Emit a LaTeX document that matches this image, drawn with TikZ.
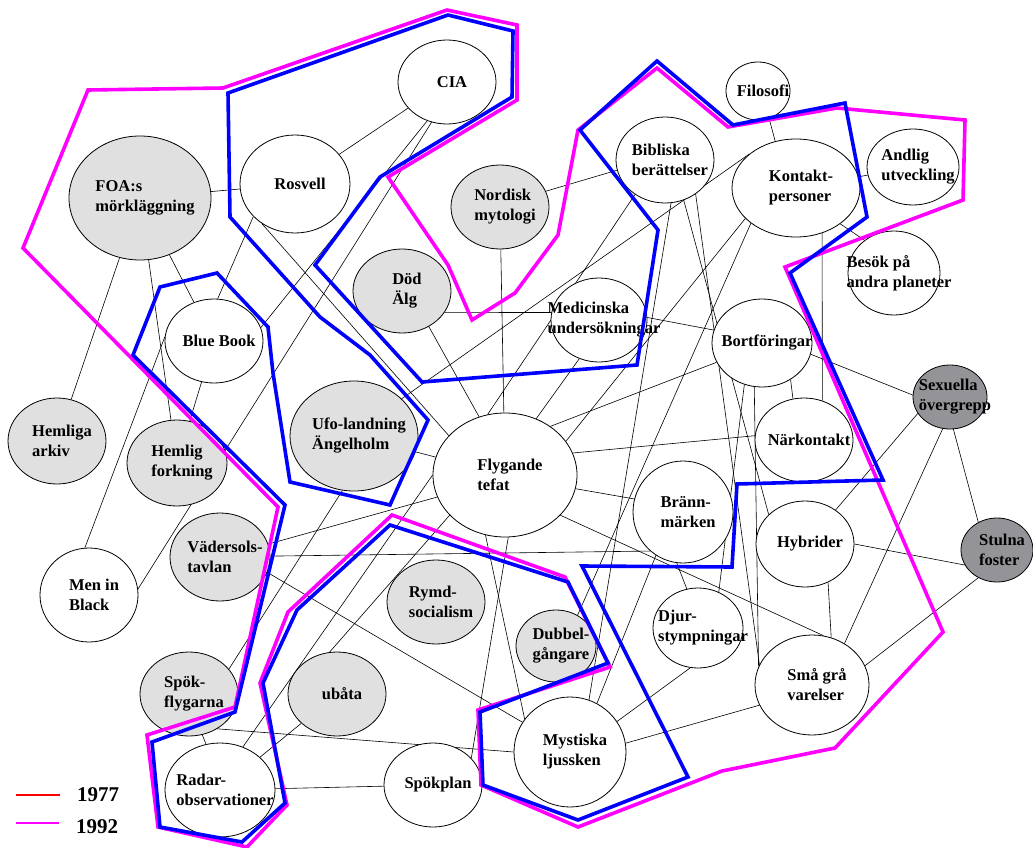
\documentclass[tikz,border=0pt]{standalone}
\usepackage{fontspec}
\setmainfont{Liberation Serif}
\usetikzlibrary{shapes.geometric,backgrounds}
\definecolor{ltgray}{RGB}{224,224,224}
\definecolor{dkgray}{RGB}{148,148,152}
\definecolor{c77}{RGB}{0,0,255}
\definecolor{c92}{RGB}{255,0,255}
\definecolor{legred}{RGB}{255,0,0}
\tikzset{
  wt/.style={ellipse, draw, line width=0.8pt, fill=white, inner sep=0pt},
  lt/.style={wt, fill=ltgray},
  dk/.style={wt, fill=dkgray},
  sz/.style 2 args={minimum width=#1, minimum height=#2},
  lbl/.style={font=\bfseries\fontsize{16.5}{20}\selectfont, align=left, inner sep=0pt, xshift=5pt},
  leg/.style={font=\bfseries\fontsize{21}{21}\selectfont, inner sep=0pt},
  edge/.style={line width=0.6pt},
  y1977/.style={c77, line width=3.6pt},
  y1992/.style={c92, line width=3.6pt}
}
\begin{document}
\begin{tikzpicture}[x=1pt,y=-1pt]
  \useasboundingbox (0,0) rectangle (1033,848);

  % noder
  \node[wt, sz={98}{84}]   (cia)      at (447,82)  {};
  \node[wt, sz={110}{98}]  (rosvell)  at (295,184) {};
  \node[lt, sz={142}{124}] (foa)      at (140,198) {};
  \node[lt, sz={98}{84}]   (nordisk)  at (500,207) {};
  \node[wt, sz={98}{86}]   (bibliska) at (665,160) {};
  \node[wt, sz={64}{58}]   (filosofi) at (758,91)  {};
  \node[wt, sz={128}{98}]  (kontakt)  at (796,188) {};
  \node[wt, sz={92}{76}]   (andlig)   at (913,167) {};
  \node[wt, sz={92}{84}]   (besok)    at (894,273) {};
  \node[lt, sz={98}{84}]   (dod)      at (402,291) {};
  \node[wt, sz={96}{84}]   (medicin)  at (599,320) {};
  \node[wt, sz={100}{88}]  (bort)     at (762,343) {};
  \node[dk, sz={74}{64}]   (sexuella) at (950,397) {};
  \node[wt, sz={98}{84}]   (narkont)  at (804,440) {};
  \node[wt, sz={98}{84}]   (bluebook) at (214,341) {};
  \node[lt, sz={98}{86}]   (hemarkiv) at (57,441)  {};
  \node[lt, sz={100}{86}]  (hemforsk) at (177,463) {};
  \node[lt, sz={128}{110}] (ufo)      at (354,436) {};
  \node[wt, sz={144}{124}] (fly)      at (505,475) {};
  \node[wt, sz={100}{102}] (brann)    at (683,512) {};
  \node[wt, sz={98}{86}]   (hybrider) at (805,544) {};
  \node[dk, sz={72}{64}]   (stulna)   at (997,550) {};
  \node[lt, sz={100}{88}]  (vader)    at (220,557) {};
  \node[wt, sz={98}{94}]   (mib)      at (89,595)  {};
  \node[lt, sz={98}{84}]   (rymd)     at (436,602) {};
  \node[lt, sz={80}{72}]   (dubbel)   at (556,646) {};
  \node[wt, sz={90}{80}]   (djur)     at (698,628) {};
  \node[wt, sz={114}{100}] (smagra)   at (812,685) {};
  \node[lt, sz={98}{84}]   (spokfl)   at (189,694) {};
  \node[lt, sz={98}{84}]   (ubata)    at (337,694) {};
  \node[wt, sz={110}{94}]  (radar)    at (220,790) {};
  \node[wt, sz={98}{84}]   (spokplan) at (433,785) {};
  \node[wt, sz={112}{110}] (mystiska) at (570,752) {};

  % texter
  \node[lbl] (ciaT)      at (cia)      {CIA};
  \node[lbl] (rosvellT)  at (rosvell)  {Rosvell};
  \node[lbl] (foaT)      at (foa)      {FOA:s\\mörkläggning};
  \node[lbl] (nordiskT)  at (nordisk)  {Nordisk\\mytologi};
  \node[lbl] (bibliskaT) at (bibliska) {Bibliska\\berättelser};
  \node[lbl] (filosofiT) at (filosofi) {Filosofi};
  \node[lbl] (kontaktT)  at (kontakt)  {Kontakt-\\personer};
  \node[lbl] (andligT)   at (andlig)   {Andlig\\utveckling};
  \node[lbl] (besokT)    at (besok)    {Besök på\\andra planeter};
  \node[lbl] (dodT)      at (dod)      {Död\\Älg};
  \node[lbl] (medicinT)  at (medicin)  {Medicinska\\undersökningar};
  \node[lbl] (bortT)     at (bort)     {Bortföringar};
  \node[lbl] (sexuellaT) at (sexuella) {Sexuella\\övergrepp};
  \node[lbl] (narkontT)  at (narkont)  {Närkontakt};
  \node[lbl] (bluebookT) at (bluebook) {Blue Book};
  \node[lbl] (hemarkivT) at (hemarkiv) {Hemliga\\arkiv};
  \node[lbl] (hemforskT) at (hemforsk) {Hemlig\\forkning};
  \node[lbl] (ufoT)      at (ufo)      {Ufo-landning\\Ängelholm};
  \node[lbl] (flyT)      at (fly)      {Flygande\\tefat};
  \node[lbl] (brannT)    at (brann)    {Bränn-\\märken};
  \node[lbl] (hybriderT) at (hybrider) {Hybrider};
  \node[lbl] (stulnaT)   at (stulna)   {Stulna\\foster};
  \node[lbl] (vaderT)    at (vader)    {Vädersols-\\tavlan};
  \node[lbl] (mibT)      at (mib)      {Men in\\Black};
  \node[lbl] (rymdT)     at (rymd)     {Rymd-\\socialism};
  \node[lbl] (dubbelT)   at (dubbel)   {Dubbel-\\gångare};
  \node[lbl] (djurT)     at (djur)     {Djur-\\stympningar};
  \node[lbl] (smagraT)   at (smagra)   {Små grå\\varelser};
  \node[lbl] (spokflT)   at (spokfl)   {Spök-\\flygarna};
  \node[lbl] (ubataT)    at (ubata)    {ubåta};
  \node[lbl] (radarT)    at (radar)    {Radar-\\observationer};
  \node[lbl] (spokplanT) at (spokplan) {Spökplan};
  \node[lbl] (mystiskaT) at (mystiska) {Mystiska\\ljussken};

  % kopplingar
  \begin{scope}[on background layer]
    \draw[edge] (foa) -- (rosvell);
    \draw[edge] (foa) -- (hemarkiv);
    \draw[edge] (foa) -- (hemforsk);
    \draw[edge] (foa) -- (bluebook);
    \draw[edge] (cia) -- (rosvell);
    \draw[edge] (cia.-117) -- (bluebook.16);
    \draw[edge] (cia.-111) -- (mib.7);
    \draw[edge] (rosvell.-142) -- (bluebook.85);
    \draw[edge] (rosvell.-130) -- (fly.145);
    \draw[edge] (bluebook) -- (hemforsk);
    \draw[edge] (bluebook.175) -- (mib.95);
    \draw[edge] (ufo) -- (fly);
    \draw[edge] (ufo.-102) -- (spokfl.32);
    \draw[edge] (ufo.38) -- (kontakt.144);
    \draw[edge] (vader.15) -- (fly.-162);
    \draw[edge] (vader.1) -- (brann.-130);
    \draw[edge] (vader.-18) -- (mystiska.148);
    \draw[edge] (spokfl.-72) -- (radar.107);
    \draw[edge] (spokfl.-51) -- (mystiska.180);
    \draw[edge] (ubata) -- (radar);
    \draw[edge] (radar) -- (spokplan);
    \draw[edge] (fly.180) -- (radar.62);
    \draw[edge] (fly.-144) -- (ubata.100);
    \draw[edge] (fly.-87) -- (spokplan.35);
    \draw[edge] (fly.-108) -- (mystiska.144);
    \draw[edge] (dod.-27) -- (medicin.171);
    \draw[edge] (dod.-53) -- (fly.114);
    \draw[edge] (nordisk.19) -- (bibliska.-168);
    \draw[edge] (nordisk) -- (fly);
    \draw[edge] (medicin.-117) -- (fly.61);
    \draw[edge] (medicin.3) -- (bort.165);
    \draw[edge] (bibliska.-131) -- (fly.106);
    \draw[edge] (bibliska.-82) -- (mystiska.70);
    \draw[edge] (bibliska.-65) -- (hybrider.141);
    \draw[edge] (bibliska.-48) -- (smagra.159);
    \draw[edge] (filosofi.-68) -- (kontakt.114);
    \draw[edge] (kontakt) -- (andlig);
    \draw[edge] (kontakt.-39) -- (besok.132);
    \draw[edge] (kontakt.-60) -- (narkont.65);
    \draw[edge] (kontakt.-149) -- (fly.29);
    \draw[edge] (kontakt.-142) -- (dubbel.55);
    \draw[edge] (bort.-157) -- (fly.47);
    \draw[edge] (bort.-52) -- (narkont.105);
    \draw[edge] (bort.-13) -- (sexuella.177);
    \draw[edge] (bort.-113) -- (djur.60);
    \draw[edge] (bort.-100) -- (smagra.161);
    \draw[edge] (fly.18) -- (narkont.175);
    \draw[edge] (fly.-11) -- (brann.165);
    \draw[edge] (fly.-36) -- (smagra.77);
    \draw[edge] (sexuella.-153) -- (hybrider.48);
    \draw[edge] (sexuella.-103) -- (smagra.52);
    \draw[edge] (sexuella.-84) -- (stulna.124);
    \draw[edge] (hybrider.0) -- (stulna.-155);
    \draw[edge] (hybrider.-59) -- (smagra.68);
    \draw[edge] (stulna.-124) -- (smagra.20);
    \draw[edge] (djur.-101) -- (mystiska.33);
    \draw[edge] (mystiska.9) -- (smagra.-159);
    \draw[edge] (brann.-97) -- (djur.106);
    \draw[edge] (brann.-122) -- (mystiska.61);
  \end{scope}

  % 1992
  \draw[y1992] (88,90) -- (223,88) -- (447,10) -- (517,25) -- (517,100)
    -- (388,177) -- (448,265) -- (472,320) -- (515,293) -- (558,235)
    -- (578,130) -- (657,68) -- (728,127) -- (837,108) -- (965,120)
    -- (963,200) -- (785,267) -- (943,632) -- (835,748) -- (722,771)
    -- (578,827) -- (481,785) -- (478,710) -- (610,667) -- (565,577)
    -- (392,515) -- (288,612) -- (260,683) -- (287,805) -- (247,847)
    -- (158,827) -- (147,735) -- (235,707) -- (278,507) -- (23,248) -- cycle;

  % 1977
  \draw[y1977] (228,93) -- (448,15) -- (513,31) -- (512,97) -- (380,177)
    -- (315,265) -- (422,382) -- (637,365) -- (658,230) -- (580,130)
    -- (657,61) -- (733,125) -- (845,103) -- (867,217) -- (790,273)
    -- (883,480) -- (737,484) -- (732,567) -- (582,566) -- (688,777)
    -- (578,820) -- (483,785) -- (480,712) -- (608,663) -- (568,582)
    -- (390,525) -- (297,610) -- (263,683) -- (285,803) -- (242,842)
    -- (160,827) -- (152,742) -- (235,712) -- (285,505) -- (133,355)
    -- (160,287) -- (217,273) -- (268,327) -- (273,373) -- (290,482)
    -- (390,505) -- (428,420) -- (370,355) -- (320,317) -- (230,217) -- cycle;

  % förklaring
  \draw[legred, line width=2.5pt] (16,795) -- (60,795);
  \node[leg] (leg77) at (98,795) {1977};
  \draw[c92, line width=2.5pt] (16,823) -- (59,823);
  \node[leg] (leg92) at (97,827) {1992};
\end{tikzpicture}
\end{document}
